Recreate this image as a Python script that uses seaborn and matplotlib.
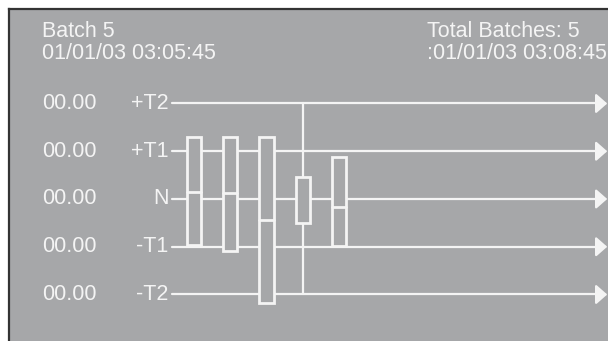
import numpy as np
import pandas as pd
import matplotlib
matplotlib.use("Agg")
import matplotlib.pyplot as plt
import seaborn as sns
from matplotlib.patches import Rectangle

sns.set_theme(style="dark")
plt.rcParams['font.family'] = ['Liberation Sans', 'DejaVu Sans']

# control levels
levels = [2, 1, 0, -1, -2]
level_names = ['+T2', '+T1', 'N', '-T1', '-T2']
level_values = ['00.00', '00.00', '00.00', '00.00', '00.00']

# batches (box top / bottom / middle, optional whisker)
batches = [1, 2, 3, 4, 5]
box_top = [1.30, 1.30, 1.30, 0.46, 0.88]
box_bottom = [-0.96, -1.09, -2.18, -0.50, -0.98]
box_mid = [0.15, 0.13, -0.44, np.nan, -0.17]
whisk_high = [np.nan, np.nan, np.nan, 2.0, np.nan]
whisk_low = [np.nan, np.nan, np.nan, -2.0, np.nan]

title_left = ['Batch 5', '01/01/03 03:05:45']
title_right = ['Total Batches: 5', ':01/01/03 03:08:45']

BG = '#a6a7a9'
FG = '#f4f4f4'
FS = 15.5

fig = plt.figure(figsize=(6.08, 3.41), dpi=100, facecolor='white')
ax = fig.add_axes([9 / 608, 0, 599 / 608, 332 / 341])
ax.set_facecolor(BG)
ax.set_xlim(-4.103, 12.421)
ax.set_ylim(-2.974, 3.979)
for s in ['right', 'bottom']:
    ax.spines[s].set_visible(False)
for s in ['top', 'left']:
    ax.spines[s].set_color('#333333')
    ax.spines[s].set_linewidth(1.6)
ax.set_xticks([])
ax.set_yticks([])
ax.grid(False)

x_start, x_end = 0.39, 12.40

# horizontal level lines
lines = pd.DataFrame({
    'x': [x_start, x_end - 0.2] * len(levels),
    'y': np.repeat(levels, 2),
    'lvl': np.repeat(level_names, 2),
})
sns.lineplot(data=lines, x='x', y='y', units='lvl', estimator=None,
             color=FG, lw=1.6, ax=ax, zorder=1, legend=False)
for lv in levels:
    ax.annotate('', xy=(x_end, lv), xytext=(x_end - 0.3, lv),
                arrowprops=dict(arrowstyle='-|>,head_length=0.34,head_width=0.3',
                                color=FG, lw=1.6, mutation_scale=20,
                                shrinkA=0, shrinkB=0), zorder=2)

# whiskers
for b, hi, lo in zip(batches, whisk_high, whisk_low):
    if not np.isnan(hi):
        sns.lineplot(x=[b, b], y=[lo, hi], color=FG, lw=1.6, ax=ax,
                     zorder=1, estimator=None)

# boxes
w = 0.39
for b, t, bt, m in zip(batches, box_top, box_bottom, box_mid):
    ax.add_patch(Rectangle((b - w / 2, bt), w, t - bt, facecolor=BG,
                           edgecolor=FG, lw=2.0, zorder=3))
    if not np.isnan(m):
        ax.plot([b - w / 2, b + w / 2], [m, m], color=FG, lw=2.0, zorder=4)

# labels
for lv, name, val in zip(levels, level_names, level_values):
    ax.text(-3.19, lv, val, color=FG, fontsize=FS, va='center', ha='left')
    ax.text(0.30, lv, name, color=FG, fontsize=FS, va='center', ha='right')

for i, (tl, tr) in enumerate(zip(title_left, title_right)):
    y = 3.51 - 0.46 * i
    ax.text(-3.19, y, tl, color=FG, fontsize=FS, va='center', ha='left')
    ax.text(7.43, y, tr, color=FG, fontsize=FS, va='center', ha='left')

fig.savefig('out.png', dpi=100, facecolor='white')
